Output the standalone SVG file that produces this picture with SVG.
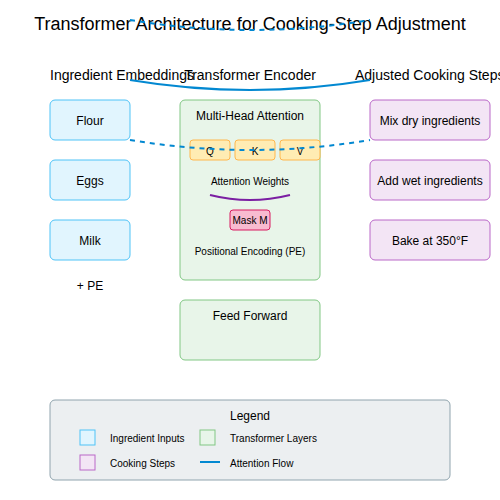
<svg xmlns="http://www.w3.org/2000/svg" width="500" height="500" viewBox="0 0 500 500">
<style>
text{font-family:"Liberation Sans",Arial,sans-serif;fill:#000}
.t{font-size:18px;text-anchor:middle}
.h{font-size:14px}
.m{font-size:12px;text-anchor:middle}
.s{font-size:10px;text-anchor:middle}
.l{font-size:10px}
.ing{fill:#e1f5fe;stroke:#4fc3f7;stroke-width:1}
.enc{fill:#e8f5e9;stroke:#81c784;stroke-width:1}
.step{fill:#f3e5f5;stroke:#ba68c8;stroke-width:1}
.qkv{fill:#ffecb3;stroke:#ffb74d;stroke-width:1}
.mask{fill:#f8bbd0;stroke:#d81b60;stroke-width:1}
.flow{fill:none;stroke:#0288d1;stroke-width:2}
.dash{stroke-dasharray:5,5}
</style>
<rect width="500" height="500" fill="#fff"/>
<text class="t" x="250" y="30">Transformer Architecture for Cooking-Step Adjustment</text>
<text class="h" x="50" y="80">Ingredient Embeddings</text>
<text class="h" x="250" y="80" text-anchor="middle">Transformer Encoder</text>
<text class="h" x="355" y="80">Adjusted Cooking Steps</text>

<g id="flour"><rect class="ing" x="50" y="100" width="80" height="40" rx="5"/><text class="m" x="90" y="125">Flour</text></g>
<g id="eggs"><rect class="ing" x="50" y="160" width="80" height="40" rx="5"/><text class="m" x="90" y="185">Eggs</text></g>
<g id="milk"><rect class="ing" x="50" y="220" width="80" height="40" rx="5"/><text class="m" x="90" y="245">Milk</text></g>
<text class="m" x="90" y="290">+ PE</text>

<g id="encoder">
<rect class="enc" x="180" y="100" width="140" height="180" rx="5"/>
<text class="m" x="250" y="120">Multi-Head Attention</text>
<g id="q"><rect class="qkv" x="190" y="140" width="40" height="20" rx="3"/><text class="s" x="210" y="155">Q</text></g>
<g id="k"><rect class="qkv" x="235" y="140" width="40" height="20" rx="3"/><text class="s" x="255" y="155">K</text></g>
<g id="v"><rect class="qkv" x="280" y="140" width="40" height="20" rx="3"/><text class="s" x="300" y="155">V</text></g>
<text class="s" x="250" y="185">Attention Weights</text>
<path d="M210,195 Q250,205 290,195" fill="none" stroke="#7b1fa2" stroke-width="2"/>
<g id="mask"><rect class="mask" x="230" y="210" width="40" height="20" rx="3"/><text class="s" x="250" y="224">Mask M</text></g>
<text class="s" x="250" y="255">Positional Encoding (PE)</text>
</g>

<g id="feedforward"><rect class="enc" x="180" y="300" width="140" height="60" rx="5"/><text class="m" x="250" y="320">Feed Forward</text></g>

<g id="step1"><rect class="step" x="370" y="100" width="120" height="40" rx="5"/><text class="m" x="430" y="125">Mix dry ingredients</text></g>
<g id="step2"><rect class="step" x="370" y="160" width="120" height="40" rx="5"/><text class="m" x="430" y="185">Add wet ingredients</text></g>
<g id="step3"><rect class="step" x="370" y="220" width="120" height="40" rx="5"/><text class="m" x="430" y="245">Bake at 350°F</text></g>

<g id="connectors">
<path class="flow dash" d="M130,20 Q250,40 370,20"/>
<path class="flow" d="M130,80 Q250,100 370,80"/>
<path class="flow dash" d="M130,140 Q250,160 370,140"/>
</g>

<g id="legend">
<rect x="50" y="400" width="400" height="80" rx="5" fill="#eceff1" stroke="#90a4ae"/>
<text class="m" x="250" y="420">Legend</text>
<rect class="ing" x="80" y="430" width="15" height="15"/>
<text class="l" x="110" y="442">Ingredient Inputs</text>
<rect class="enc" x="200" y="430" width="15" height="15"/>
<text class="l" x="230" y="442">Transformer Layers</text>
<rect class="step" x="80" y="455" width="15" height="15"/>
<text class="l" x="110" y="467">Cooking Steps</text>
<line x1="200" y1="462" x2="220" y2="462" stroke="#0288d1" stroke-width="2"/>
<text class="l" x="230" y="467">Attention Flow</text>
</g>
</svg>
